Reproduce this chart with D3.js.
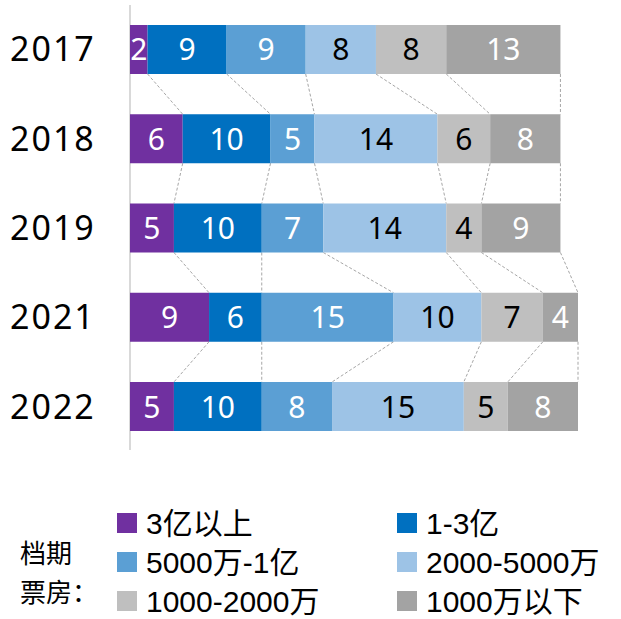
<!DOCTYPE html>
<html>
<head>
<meta charset="utf-8">
<script src="https://cdn.jsdelivr.net/npm/d3@7"></script>
<style>
    body { margin: 0; background: #fff; }
    svg { display: block; }
</style>
</head>
<body>
<svg id="chart" width="621" height="619"></svg>
<script>
// data
var years = ["2017", "2018", "2019", "2021", "2022"];
var categories = ["3亿以上", "1-3亿", "5000万-1亿", "2000-5000万", "1000-2000万", "1000万以下"];
var above3yi = [2, 6, 5, 9, 5];
var from1to3yi = [9, 10, 10, 6, 10];
var from5000wTo1yi = [9, 5, 7, 15, 8];
var from2000to5000w = [8, 14, 14, 10, 15];
var from1000to2000w = [8, 6, 4, 7, 5];
var below1000w = [13, 8, 9, 4, 8];
var legendTitle = ["档期", "票房："];

var seriesValues = [above3yi, from1to3yi, from5000wTo1yi, from2000to5000w, from1000to2000w, below1000w];
var colors = ["#7030a0", "#0070c0", "#5b9fd4", "#9dc3e6", "#bfbfbf", "#a3a3a3"];
var labelColors = ["#fff", "#fff", "#fff", "#000", "#000", "#fff"];

var svg = d3.select("#chart");

// stack per year
var rows = years.map(function(y, i) {
    var o = { year: y };
    categories.forEach(function(c, k) { o[c] = seriesValues[k][i]; });
    return o;
});
var stacked = d3.stack().keys(categories)(rows);

var x = d3.scaleLinear().domain([0, 51]).range([130, 578]);
var y = d3.scaleBand().domain(years).range([25, 431]).paddingInner(0.451).paddingOuter(0);

// axis line on the left
svg.append("line")
    .attr("x1", x(0)).attr("x2", x(0))
    .attr("y1", 5).attr("y2", 450)
    .attr("stroke", "#d9d9d9")
    .attr("stroke-width", 2);

// dashed connectors between the bars
var links = [];
for (i = 0; i < years.length - 1; i++) {
    for (k = 0; k < categories.length; k++) {
        links.push({
            x1: x(stacked[k][i][1]),
            x2: x(stacked[k][i + 1][1]),
            y1: y(years[i]) + y.bandwidth(),
            y2: y(years[i + 1])
        });
    }
}
svg.append("g").selectAll("line")
    .data(links)
    .enter()
    .append("line")
    .attr("x1", function(d) { return d.x1; })
    .attr("x2", function(d) { return d.x2; })
    .attr("y1", function(d) { return d.y1; })
    .attr("y2", function(d) { return d.y2; })
    .attr("stroke", "#a6a6a6")
    .attr("stroke-width", 1)
    .attr("stroke-dasharray", "3,2");

var layer = svg.append("g").selectAll("g")
    .data(stacked)
    .enter()
    .append("g")
    .attr("fill", function(d, k) { return colors[k]; });

layer.selectAll("rect")
    .data(function(d) { return d; })
    .enter()
    .append("rect")
    .attr("x", function(d) { return x(d[0]); })
    .attr("y", function(d) { return y(d.data.year); })
    .attr("width", function(d) { return x(d[1]) - x(d[0]); })
    .attr("height", y.bandwidth());

layer.each(function(s, k) {
    d3.select(this).selectAll("text")
        .data(s)
        .enter()
        .append("text")
        .attr("x", function(d) { return (x(d[0]) + x(d[1])) / 2; })
        .attr("y", function(d) { return y(d.data.year) + y.bandwidth() / 2 + 11; })
        .attr("text-anchor", "middle")
        .attr("font-family", "'Noto Sans', sans-serif")
        .attr("font-size", 30)
        .attr("fill", labelColors[k])
        .text(function(d) { return d[1] - d[0]; });
});

// year labels
svg.append("g").selectAll("text")
    .data(years)
    .enter()
    .append("text")
    .attr("x", 10)
    .attr("y", function(d) { return y(d) + y.bandwidth() / 2 + 12; })
    .attr("font-family", "'Noto Sans', sans-serif")
    .attr("font-size", 34)
    .attr("letter-spacing", 2)
    .attr("fill", "#000")
    .text(function(d) { return d; });

// legend
svg.append("g").selectAll("text")
    .data(legendTitle)
    .enter()
    .append("text")
    .attr("x", 20)
    .attr("y", function(d, i) { return 563 + i * 39; })
    .attr("font-family", "'Noto Sans CJK SC', sans-serif")
    .attr("font-size", 26)
    .attr("fill", "#000")
    .text(function(d) { return d; });

var legend = svg.append("g").selectAll("g")
    .data(categories)
    .enter()
    .append("g")
    .attr("transform", function(d, i) {
        return "translate(" + (i % 2 == 0 ? 117 : 397) + "," + (513 + Math.floor(i / 2) * 39) + ")";
    });

legend.append("rect")
    .attr("width", 20)
    .attr("height", 20)
    .attr("fill", function(d, i) { return colors[i]; });

legend.append("text")
    .attr("x", 29)
    .attr("y", 10)
    .attr("dy", "0.36em")
    .attr("font-family", "'Liberation Sans', 'Noto Sans CJK SC', sans-serif")
    .attr("font-size", 30)
    .attr("fill", "#000")
    .text(function(d) { return d; });
</script>
</body>
</html>
